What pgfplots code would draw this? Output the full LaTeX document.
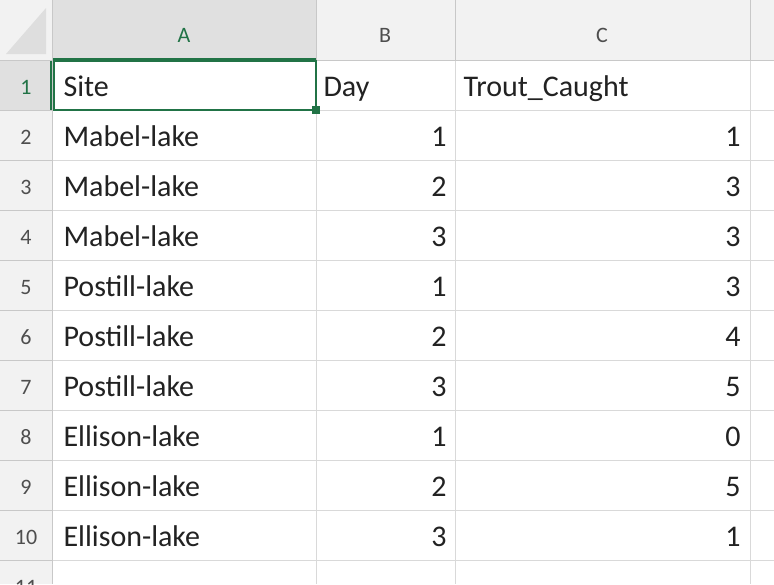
\documentclass[border=0pt]{standalone}
\usepackage{pgfplots}
\pgfplotsset{compat=1.18}
\usepackage{fontspec}
\setmainfont{Carlito}
\definecolor{hdr}{HTML}{F2F2F2}
\definecolor{gridc}{HTML}{D9D9D9}
\definecolor{hdrline}{HTML}{C8C8C8}
\definecolor{xlgreen}{HTML}{217346}
\definecolor{txt}{HTML}{222222}
\begin{document}
\begin{tikzpicture}
\begin{axis}[width=774pt,height=584pt,scale only axis,xmin=0,xmax=774,ymin=0,ymax=584,y dir=reverse,axis lines=none,clip=true]
\pgfplotsextra{
\fill[white] (axis cs:0,0) rectangle (axis cs:774,584);
\fill[hdr] (axis cs:0,0) rectangle (axis cs:774,60);
\fill[hdr] (axis cs:0,0) rectangle (axis cs:52,584);
\fill[hdrline!60!white] (axis cs:6,54) -- (axis cs:46,54) -- (axis cs:46,8) -- cycle;
\foreach \y in {110,160,210,260,310,360,410,460,510,560}{
  \draw[gridc] (axis cs:52,\y) -- (axis cs:774,\y);
  \draw[hdrline] (axis cs:0,\y) -- (axis cs:52,\y);
}
\foreach \x in {316,455,750}{
  \draw[gridc] (axis cs:\x,60) -- (axis cs:\x,584);
  \draw[hdrline] (axis cs:\x,0) -- (axis cs:\x,60);
}
\draw[hdrline] (axis cs:52,0) -- (axis cs:52,584);
\draw[hdrline] (axis cs:0,60) -- (axis cs:774,60);
\fill[black!12] (axis cs:53,0) rectangle (axis cs:315.5,59.5);
\draw[xlgreen,line width=2pt] (axis cs:53,59) -- (axis cs:316,59);
\fill[black!12] (axis cs:0,60.5) rectangle (axis cs:51.5,110);
\draw[xlgreen,line width=2pt] (axis cs:51,61) -- (axis cs:51,110);
\draw[xlgreen,line width=2pt] (axis cs:54,61) rectangle (axis cs:316,110);
\fill[xlgreen] (axis cs:312,106) rectangle (axis cs:320,114);
\node[anchor=base,font=\fontsize{22}{24}\selectfont,text=xlgreen] at (axis cs:184,42) {A};
\node[anchor=base,font=\fontsize{22}{24}\selectfont,text=txt!80] at (axis cs:385,42) {B};
\node[anchor=base,font=\fontsize{22}{24}\selectfont,text=txt!80] at (axis cs:602,42) {C};
\node[anchor=base,font=\fontsize{22}{24}\selectfont,text=xlgreen] at (axis cs:26,94) {1};
\foreach \r/\yy in {2/144,3/194,4/244,5/294,6/344,7/394,8/444,9/494,10/544,11/594}{
  \node[anchor=base,font=\fontsize{22}{24}\selectfont,text=txt!80] at (axis cs:26,\yy) {\r};
}
\node[anchor=base west,font=\fontsize{30}{32}\selectfont,text=txt] at (axis cs:60,96) {Site};
\node[anchor=base west,font=\fontsize{30}{32}\selectfont,text=txt] at (axis cs:320,96) {Day};
\node[anchor=base west,font=\fontsize{30}{32}\selectfont,text=txt] at (axis cs:460,96) {Trout\_Caught};
\foreach \yy/\s/\d/\t in {146/Mabel-lake/1/1,196/Mabel-lake/2/3,246/Mabel-lake/3/3,296/Postill-lake/1/3,346/Postill-lake/2/4,396/Postill-lake/3/5,446/Ellison-lake/1/0,496/Ellison-lake/2/5,546/Ellison-lake/3/1}{
  \node[anchor=base west,font=\fontsize{30}{32}\selectfont,text=txt] at (axis cs:60,\yy) {\s};
  \node[anchor=base east,font=\fontsize{30}{32}\selectfont,text=txt] at (axis cs:450,\yy) {\d};
  \node[anchor=base east,font=\fontsize{30}{32}\selectfont,text=txt] at (axis cs:744,\yy) {\t};
}
}
\end{axis}
\end{tikzpicture}
\end{document}
